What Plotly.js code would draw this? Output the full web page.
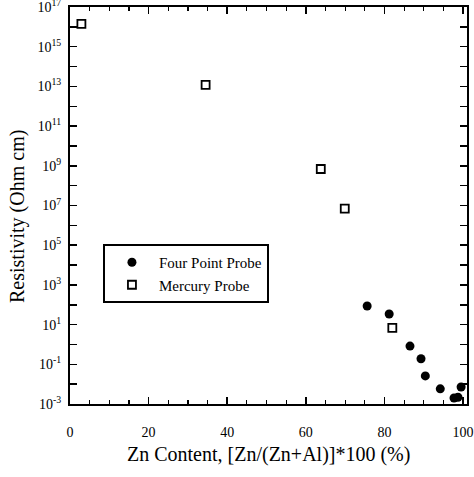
<!DOCTYPE html>
<html>
<head>
<meta charset="utf-8">
<script src="https://cdn.plot.ly/plotly-3.0.1.min.js"></script>
<style>html,body{margin:0;padding:0;background:#fff;}#chart{width:474px;height:477px;}</style>
</head>
<body>
<div id="chart"></div>
<script>
// Four point probe measurements
var fourPointZn = [75.6, 81.2, 86.5, 89.3, 90.4, 94.2, 97.7, 98.7, 99.5];
var fourPointRes = [87, 34, 0.83, 0.19, 0.026, 0.0058, 0.0020, 0.0022, 0.0072];
// Mercury probe measurements
var mercuryZn = [2.9, 34.5, 63.8, 69.9, 82.0];
var mercuryRes = [1.4e16, 1.2e13, 6.9e8, 6.9e6, 6.8];
// Tick labels
var yTickExps = [-3, -1, 1, 3, 5, 7, 9, 11, 13, 15, 17];
var yMinorExps = [-2, 0, 2, 4, 6, 8, 10, 12, 14, 16];
var xTickVals = [0, 20, 40, 60, 80, 100];
var xMinorVals = [5, 10, 15, 25, 30, 35, 45, 50, 55, 65, 70, 75, 85, 90, 95];
var xTitle = 'Zn Content, [Zn/(Zn+Al)]*100 (%)';
var yTitle = 'Resistivity (Ohm cm)';

var yTickVals = yTickExps.map(function(e){ return Math.pow(10, e); });
var yTickText = yTickExps.map(function(e){ return '10<sup>' + e + '</sup>'; });
var yMinorVals = yMinorExps.map(function(e){ return Math.pow(10, e); });

var font = 'Liberation Serif, Times New Roman, serif';

var traces = [
  {
    x: fourPointZn, y: fourPointRes, type: 'scatter', mode: 'markers',
    name: 'Four Point Probe',
    marker: {symbol: 'circle', size: 9, color: '#000'},
    cliponaxis: false
  },
  {
    x: mercuryZn, y: mercuryRes, type: 'scatter', mode: 'markers',
    name: 'Mercury Probe',
    marker: {symbol: 'square-open', size: 8, color: '#000', line: {width: 1.8, color: '#000'}},
    cliponaxis: false
  }
];

var layout = {
  width: 474, height: 477,
  margin: {l: 70, r: 7, t: 7, b: 73},
  paper_bgcolor: '#fff', plot_bgcolor: '#fff',
  font: {family: font, color: '#000', size: 14},
  showlegend: true,
  legend: {
    x: 0.083, y: 0.403, xanchor: 'left', yanchor: 'top',
    bordercolor: '#000', borderwidth: 2, bgcolor: '#fff',
    font: {family: font, size: 15, color: '#000'},
    itemwidth: 44, tracegroupgap: 0
  },
  xaxis: {
    range: [0, 101], showgrid: false, zeroline: false, automargin: false,
    showline: true, linecolor: '#000', linewidth: 2, mirror: 'ticks',
    ticks: 'inside', ticklen: 7, tickwidth: 1.5, tickcolor: '#000',
    tickmode: 'array', tickvals: xTickVals,
    ticklabeloverflow: 'allow', ticklabelstandoff: 14,
    tickfont: {family: font, size: 14, color: '#000'},
    minor: {tickmode: 'array', tickvals: xMinorVals, ticks: 'inside', ticklen: 4, tickwidth: 1.2, tickcolor: '#000', showgrid: false}
  },
  yaxis: {
    type: 'log', range: [-3, 17], showgrid: false, zeroline: false, automargin: false,
    showline: true, linecolor: '#000', linewidth: 2, mirror: 'ticks',
    ticks: 'inside', ticklen: 7, tickwidth: 1.5, tickcolor: '#000',
    tickmode: 'array', tickvals: yTickVals, ticktext: yTickText,
    ticklabeloverflow: 'allow', ticklabelstandoff: 4,
    tickfont: {family: font, size: 14, color: '#000'},
    minor: {tickmode: 'array', tickvals: yMinorVals, ticks: 'inside', ticklen: 7, tickwidth: 1.5, tickcolor: '#000', showgrid: false}
  },
  annotations: [
    {text: xTitle, xref: 'paper', yref: 'paper', x: 0.5, y: -0.126,
     xanchor: 'center', yanchor: 'middle', showarrow: false,
     font: {family: font, size: 20, color: '#000'}},
    {text: yTitle, xref: 'paper', yref: 'paper', x: -0.131, y: 0.4736,
     xanchor: 'center', yanchor: 'middle', showarrow: false, textangle: -90,
     font: {family: font, size: 20, color: '#000'}}
  ]
};

Plotly.newPlot('chart', traces, layout, {displayModeBar: false, staticPlot: true});
</script>
</body>
</html>
